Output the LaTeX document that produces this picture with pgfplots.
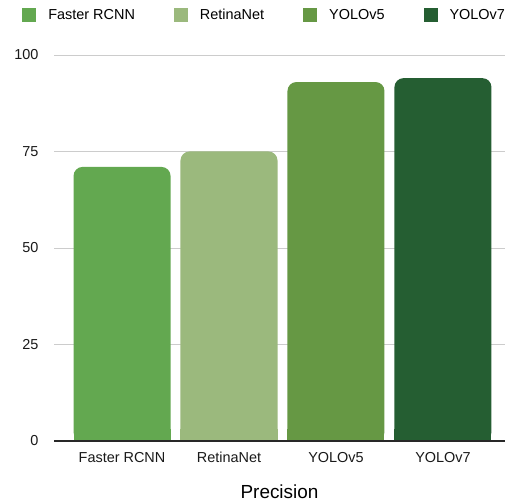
\documentclass[border=0pt]{standalone}
\usepackage{fontspec}
\setmainfont{Liberation Sans}
\usepackage{pgfplots}
\pgfplotsset{compat=1.18}
\definecolor{cA}{RGB}{99,168,80}
\definecolor{cB}{RGB}{155,185,125}
\definecolor{cC}{RGB}{102,152,68}
\definecolor{cD}{RGB}{37,94,50}
\definecolor{axisdark}{RGB}{40,40,40}
\pgfplotsset{sq legend/.style={legend image code/.code={\fill[##1,sharp corners] (0bp,-7bp) rectangle (14bp,7bp);}}}
\begin{document}
\begin{tikzpicture}
\begin{axis}[
 scale only axis, width=451bp, height=386bp,
 ymin=0, ymax=100, ytick={0,25,50,75,100},
 xmin=-0.636, xmax=3.58,
 xtick={0,1,2,3}, xticklabels={Faster RCNN,RetinaNet,YOLOv5,YOLOv7},
 ybar, bar shift=0pt, bar width=0.907,
 axis line style={draw=none},
 major tick length=0pt,
 ymajorgrids, grid style={color=black!20, line width=0.8bp},
 tick label style={font=\fontsize{14.5}{16}\selectfont, text=black!90},
 /pgf/number format/assume math mode=true,
 yticklabel style={xshift=-12bp},
 xticklabel style={yshift=-8bp},
 xlabel={Precision},
 xlabel style={font=\fontsize{19}{22}\selectfont, yshift=-15bp},
 legend style={at={(0.467,1)}, anchor=center, yshift=40bp, draw=none,
   legend columns=4, font=\fontsize{14.5}{16}\selectfont,
   /tikz/every odd column/.append style={column sep=10bp},
   /tikz/every even column/.append style={column sep=37bp}},
 clip=false,
]
\addplot[fill=cA, draw=none, rounded corners=9bp, sq legend] coordinates {(0,71)};
\addlegendentry{Faster RCNN}
\addplot[fill=cB, draw=none, rounded corners=9bp, sq legend] coordinates {(1,75)};
\addlegendentry{RetinaNet}
\addplot[fill=cC, draw=none, rounded corners=9bp, sq legend] coordinates {(2,93)};
\addlegendentry{YOLOv5}
\addplot[fill=cD, draw=none, rounded corners=9bp, sq legend] coordinates {(3,94)};
\addlegendentry{YOLOv7}
\addplot[fill=cA, draw=none, forget plot] coordinates {(0,3)};
\addplot[fill=cB, draw=none, forget plot] coordinates {(1,3)};
\addplot[fill=cC, draw=none, forget plot] coordinates {(2,3)};
\addplot[fill=cD, draw=none, forget plot] coordinates {(3,3)};
\draw[axisdark, line width=1.3bp] (rel axis cs:0,0) -- (rel axis cs:1,0);
\coordinate (O) at (rel axis cs:0,0);
\coordinate (T) at (rel axis cs:1,1);
\end{axis}
\pgfresetboundingbox
\path (O) ++(-54bp,-61bp) rectangle ([yshift=55bp]T);
\end{tikzpicture}
\end{document}
